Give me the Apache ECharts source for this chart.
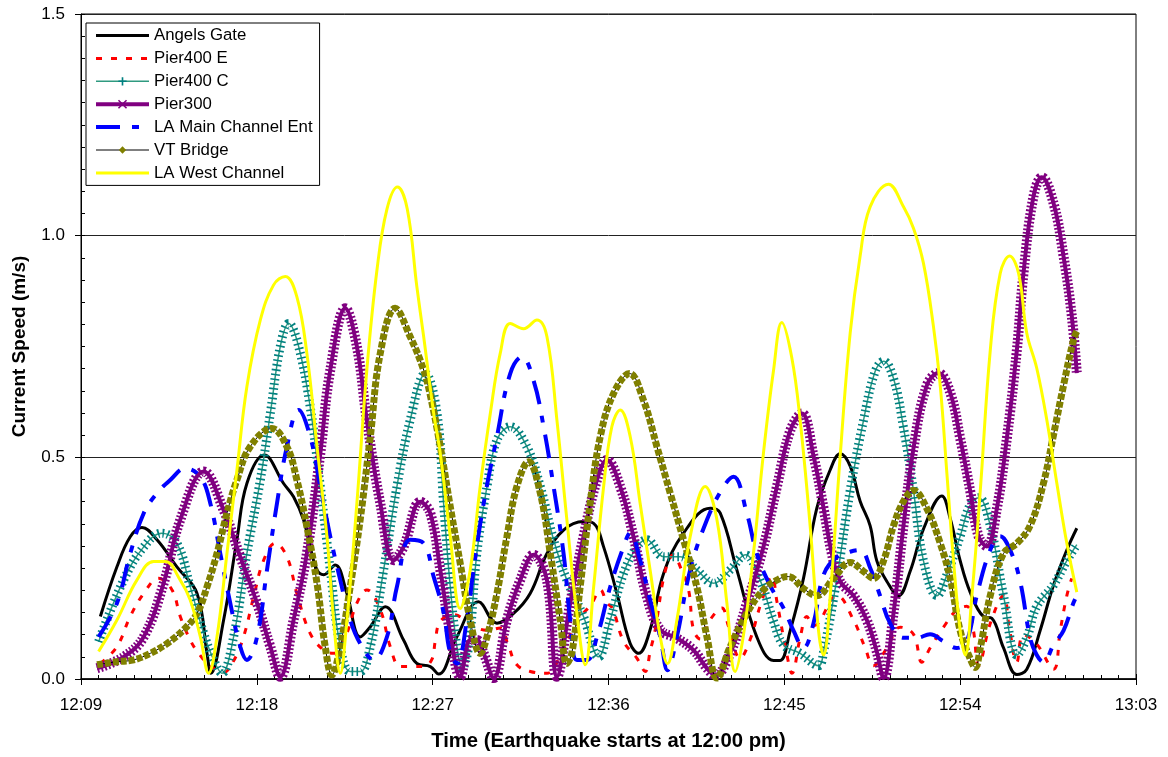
<!DOCTYPE html>
<html>
<head>
<meta charset="utf-8">
<script src="https://cdn.jsdelivr.net/npm/echarts@6/dist/echarts.min.js"></script>
<style>
html,body{margin:0;padding:0;background:#fff;}
#chart{width:1168px;height:757px;}
</style>
</head>
<body>
<div id="chart"></div>
<script>
// Time in minutes after 12:00, speed in m/s
const tickValues = [9, 18, 27, 36, 45, 54, 63];
const tickLabels = ['12:09', '12:18', '12:27', '12:36', '12:45', '12:54', '13:03'];
const yTickLabels = ['0.0', '0.5', '1.0', '1.5'];
const seriesNames = ['Angels Gate', 'Pier400 E', 'Pier400 C', 'Pier300', 'LA Main Channel Ent', 'VT Bridge', 'LA West Channel'];

const angelsGate = [[9.99,0.141],[10.84,0.253],[11.52,0.321],[12.12,0.342],[12.89,0.314],[13.91,0.253],[14.94,0.193],[15.45,0.058],[15.65,0.013],[16.30,0.133],[16.98,0.314],[17.49,0.441],[18.38,0.505],[19.37,0.441],[19.88,0.411],[20.39,0.359],[20.73,0.298],[21.08,0.246],[21.42,0.235],[22.01,0.257],[22.61,0.193],[23.29,0.095],[23.81,0.118],[24.57,0.163],[25.51,0.088],[26.19,0.035],[26.88,0.028],[27.30,0.011],[28.24,0.095],[29.35,0.174],[30.29,0.126],[31.14,0.148],[31.99,0.193],[32.85,0.283],[33.70,0.336],[34.72,0.355],[35.24,0.351],[35.75,0.298],[36.43,0.193],[37.11,0.080],[37.54,0.058],[38.13,0.111],[38.82,0.238],[39.84,0.329],[41.21,0.385],[41.72,0.374],[42.57,0.246],[43.59,0.095],[44.45,0.042],[44.79,0.042],[45.30,0.109],[45.98,0.227],[46.66,0.385],[47.35,0.472],[47.86,0.508],[48.37,0.480],[48.88,0.401],[49.39,0.346],[49.73,0.267],[50.25,0.220],[50.84,0.188],[51.44,0.243],[52.12,0.338],[53.06,0.413],[53.49,0.362],[54.00,0.267],[54.51,0.196],[55.19,0.141],[55.62,0.137],[56.22,0.070],[56.90,0.010],[57.41,0.022],[58.09,0.109],[58.78,0.212],[59.46,0.291],[59.97,0.340]];

const pier400E = [[9.99,0.035],[10.84,0.073],[11.52,0.141],[12.21,0.193],[12.97,0.227],[13.66,0.201],[14.08,0.141],[14.59,0.088],[15.02,0.058],[15.6,0.030],[16.3,0.015],[16.8,0.040],[17.32,0.095],[17.84,0.186],[18.35,0.268],[18.94,0.306],[19.54,0.276],[20.05,0.193],[20.73,0.103],[21.42,0.065],[21.93,0.058],[22.53,0.095],[23.12,0.171],[23.63,0.201],[24.32,0.156],[24.83,0.073],[25.34,0.028],[25.85,0.028],[26.53,0.028],[26.96,0.044],[27.13,0.085],[27.39,0.130],[28.06,0.145],[29.09,0.119],[29.8,0.110],[30.46,0.115],[30.88,0.074],[31.31,0.032],[32.0,0.017],[32.85,0.013],[33.6,0.060],[34.4,0.130],[35.15,0.171],[35.58,0.201],[35.92,0.172],[36.2,0.160],[36.77,0.085],[37.45,0.047],[37.88,0.017],[38.13,0.062],[38.39,0.111],[38.90,0.243],[39.33,0.280],[39.7,0.250],[40.10,0.201],[40.35,0.111],[40.7,0.090],[41.21,0.134],[41.80,0.160],[42.14,0.119],[42.74,0.047],[43.25,0.089],[43.8,0.170],[44.36,0.231],[44.62,0.175],[45.13,0.055],[45.39,0.013],[45.81,0.093],[46.15,0.141],[46.5,0.120],[47.69,0.188],[48.54,0.133],[49.14,0.070],[49.56,0.030],[50.25,0.070],[50.93,0.117],[51.61,0.101],[52.04,0.038],[52.46,0.070],[53.15,0.117],[53.83,0.156],[54.34,0.164],[54.68,0.109],[54.94,0.030],[55.54,0.125],[56.22,0.188],[56.5,0.120],[56.90,0.038],[57.24,0.100],[57.9,0.080],[58.78,0.022],[59.12,0.109],[59.46,0.188],[59.71,0.227]];

const pier400C = [[9.90,0.084],[11.18,0.223],[12.21,0.298],[13.14,0.329],[13.91,0.306],[14.59,0.208],[15.28,0.103],[15.79,0.043],[16.21,0.013],[16.81,0.095],[17.49,0.283],[18.18,0.449],[18.69,0.599],[19.20,0.750],[19.63,0.802],[20.14,0.750],[20.73,0.614],[21.25,0.434],[21.76,0.246],[22.27,0.073],[22.78,0.017],[23.29,0.017],[23.81,0.073],[24.49,0.246],[25.17,0.434],[25.85,0.584],[26.62,0.689],[27.22,0.600],[27.56,0.396],[27.90,0.208],[28.24,0.073],[28.50,0.024],[28.84,0.073],[29.26,0.283],[29.78,0.434],[30.29,0.539],[30.97,0.569],[31.82,0.524],[32.51,0.434],[33.19,0.314],[33.87,0.223],[34.72,0.141],[35.49,0.050],[36.09,0.133],[36.77,0.238],[37.45,0.298],[37.96,0.314],[38.82,0.276],[39.67,0.276],[40.52,0.246],[41.38,0.216],[42.23,0.246],[43.0,0.280],[43.76,0.223],[44.45,0.130],[44.96,0.077],[45.81,0.058],[46.75,0.030],[47.01,0.062],[47.69,0.227],[48.37,0.425],[49.05,0.583],[49.65,0.694],[50.08,0.717],[50.59,0.678],[51.10,0.567],[51.61,0.425],[52.12,0.267],[52.81,0.188],[53.32,0.235],[54.00,0.322],[54.51,0.393],[54.94,0.409],[55.54,0.346],[56.22,0.188],[56.90,0.054],[57.41,0.093],[57.92,0.164],[58.78,0.212],[59.46,0.267],[59.97,0.303]];

const pier300 = [[9.82,0.024],[11.18,0.050],[12.21,0.095],[13.23,0.216],[14.08,0.359],[15.28,0.468],[16.30,0.381],[17.15,0.276],[18.01,0.171],[18.69,0.073],[19.20,0.005],[19.88,0.133],[20.56,0.283],[21.25,0.509],[21.76,0.697],[22.53,0.836],[23.12,0.750],[23.63,0.584],[24.32,0.396],[25.0,0.268],[25.51,0.298],[26.37,0.400],[26.88,0.374],[27.39,0.246],[27.90,0.103],[28.41,0.005],[28.92,0.088],[29.26,0.088],[29.61,0.058],[30.12,0.002],[30.80,0.133],[31.48,0.223],[32.16,0.280],[32.85,0.223],[33.36,0.005],[34.04,0.171],[34.72,0.321],[35.41,0.449],[35.92,0.494],[36.60,0.434],[37.28,0.321],[37.96,0.186],[38.65,0.111],[39.50,0.092],[40.35,0.065],[41.04,0.024],[41.46,0.009],[42.23,0.058],[43.08,0.171],[43.93,0.298],[44.62,0.434],[45.30,0.560],[45.90,0.599],[46.49,0.504],[47.01,0.385],[47.43,0.283],[47.86,0.220],[48.54,0.188],[49.22,0.133],[49.73,0.062],[50.08,0.002],[50.59,0.149],[51.10,0.346],[51.61,0.520],[52.29,0.662],[52.89,0.690],[53.49,0.646],[54.00,0.543],[54.51,0.425],[54.94,0.322],[55.37,0.299],[55.88,0.385],[56.39,0.543],[56.90,0.741],[57.24,0.915],[57.75,1.088],[58.18,1.132],[58.78,1.073],[59.29,0.954],[59.71,0.820],[59.97,0.690]];

const laMainChannel = [[9.90,0.095],[10.84,0.171],[11.52,0.283],[12.21,0.374],[12.89,0.419],[13.57,0.449],[14.34,0.475],[15.11,0.456],[15.62,0.396],[16.13,0.283],[16.64,0.171],[17.15,0.073],[17.49,0.043],[18.01,0.095],[18.52,0.246],[19.03,0.396],[19.54,0.524],[20.14,0.607],[20.73,0.547],[21.25,0.434],[21.76,0.321],[22.27,0.223],[22.78,0.133],[23.29,0.080],[23.98,0.043],[24.66,0.095],[25.17,0.208],[25.85,0.314],[26.54,0.306],[27.05,0.231],[27.56,0.150],[27.90,0.058],[28.24,0.035],[28.75,0.133],[29.09,0.246],[29.61,0.396],[30.29,0.547],[30.97,0.689],[31.57,0.727],[32.16,0.674],[32.68,0.569],[33.19,0.434],[33.70,0.283],[34.04,0.133],[34.38,0.043],[34.89,0.043],[35.41,0.095],[36.09,0.208],[36.77,0.298],[37.11,0.329],[37.62,0.268],[38.13,0.178],[38.65,0.095],[39.02,0.020],[39.50,0.095],[40.18,0.246],[41.04,0.359],[41.89,0.434],[42.40,0.456],[43.08,0.374],[43.59,0.283],[44.28,0.210],[44.96,0.160],[45.47,0.109],[45.98,0.070],[46.49,0.125],[47.01,0.235],[47.69,0.275],[48.37,0.287],[48.88,0.291],[49.39,0.251],[49.90,0.188],[50.42,0.125],[51.10,0.093],[51.78,0.093],[52.46,0.101],[53.15,0.085],[53.83,0.070],[54.34,0.085],[54.85,0.188],[55.54,0.291],[56.05,0.322],[56.56,0.291],[57.07,0.220],[57.58,0.093],[57.92,0.054],[58.26,0.038],[58.78,0.077],[59.29,0.109],[59.80,0.172],[59.97,0.188]];

const vtBridge = [[9.82,0.032],[10.84,0.039],[11.69,0.043],[12.55,0.058],[13.40,0.080],[14.25,0.111],[14.94,0.148],[15.45,0.208],[15.96,0.283],[16.47,0.374],[16.98,0.449],[17.66,0.524],[18.77,0.565],[19.54,0.524],[20.05,0.449],[20.56,0.344],[21.08,0.216],[21.50,0.073],[21.84,0.009],[22.27,0.073],[22.78,0.208],[23.29,0.359],[23.81,0.547],[24.32,0.735],[25.08,0.836],[25.85,0.772],[26.54,0.697],[26.88,0.640],[27.39,0.524],[27.90,0.389],[28.41,0.261],[28.92,0.133],[29.43,0.058],[29.78,0.095],[30.29,0.193],[30.80,0.321],[31.31,0.434],[31.91,0.490],[32.51,0.419],[33.02,0.283],[33.53,0.133],[33.87,0.035],[34.13,0.060],[34.55,0.208],[35.06,0.396],[35.58,0.547],[36.26,0.644],[37.08,0.689],[37.79,0.629],[38.48,0.524],[39.16,0.419],[39.84,0.314],[40.52,0.208],[41.04,0.095],[41.55,0.002],[42.23,0.073],[43.08,0.148],[43.93,0.201],[44.79,0.227],[45.21,0.231],[45.98,0.204],[46.66,0.188],[47.52,0.227],[48.37,0.263],[49.05,0.243],[49.56,0.227],[50.08,0.267],[50.59,0.346],[51.10,0.401],[51.61,0.425],[52.29,0.385],[52.98,0.306],[53.49,0.227],[54.00,0.109],[54.51,0.046],[54.77,0.026],[55.03,0.070],[55.54,0.188],[56.22,0.283],[56.90,0.306],[57.58,0.346],[58.26,0.441],[58.78,0.551],[59.29,0.662],[59.80,0.765],[59.97,0.784]];

const laWestChannel = [[9.90,0.062],[10.84,0.133],[11.86,0.223],[12.72,0.265],[13.31,0.265],[14.08,0.223],[14.59,0.178],[15.11,0.095],[15.53,0.013],[15.96,0.095],[16.47,0.283],[16.98,0.471],[17.49,0.659],[18.18,0.810],[18.86,0.889],[19.46,0.908],[20.05,0.862],[20.56,0.735],[21.08,0.524],[21.59,0.321],[21.93,0.133],[22.27,0.013],[22.61,0.133],[23.12,0.396],[23.63,0.697],[24.15,0.923],[24.66,1.060],[25.20,1.110],[25.70,1.060],[26.19,0.885],[26.54,0.772],[27.05,0.600],[27.39,0.509],[27.90,0.321],[28.41,0.159],[28.92,0.246],[29.43,0.434],[29.95,0.599],[30.46,0.735],[30.97,0.802],[31.65,0.790],[32.34,0.810],[32.85,0.772],[33.36,0.584],[33.87,0.359],[34.38,0.148],[34.81,0.032],[35.24,0.208],[35.75,0.434],[36.17,0.569],[36.60,0.607],[37.11,0.547],[37.62,0.396],[38.13,0.246],[38.65,0.095],[39.02,0.035],[39.50,0.133],[40.18,0.321],[40.95,0.434],[41.55,0.359],[42.06,0.171],[42.48,0.017],[42.91,0.100],[43.42,0.283],[43.93,0.509],[44.45,0.697],[44.87,0.804],[45.38,0.725],[45.81,0.583],[46.32,0.346],[46.75,0.109],[47.01,0.054],[47.35,0.188],[47.86,0.504],[48.37,0.780],[48.88,0.954],[49.39,1.065],[50.33,1.116],[51.10,1.065],[51.61,1.017],[52.12,0.938],[52.63,0.796],[52.98,0.662],[53.32,0.464],[53.66,0.267],[54.00,0.109],[54.26,0.054],[54.60,0.188],[55.03,0.425],[55.54,0.741],[56.05,0.915],[56.53,0.954],[56.99,0.915],[57.41,0.780],[57.92,0.701],[58.44,0.583],[58.95,0.441],[59.46,0.306],[59.97,0.196]];

const FONT = "'Liberation Sans', Arial, sans-serif";
const NO_SYMBOL = 'path://M0,0M14,14';
const PLUS = 'path://M0,0M14,14M6.1,2.5H7.9V11.5H6.1ZM2.5,6.1H11.5V7.9H2.5Z';
const CROSS = 'path://M0,0M14,14M2,3.2L3.2,2L12,10.8L10.8,12ZM2,10.8L10.8,2L12,3.2L3.2,12Z';
const DIAMOND = 'path://M0,0M14,14M7,3L11,7L7,11L3,7Z';

function lineSeries(name, data, opts) {
  return Object.assign({
    name: name, type: 'line', data: data, smooth: 0.4, showSymbol: false,
    symbol: NO_SYMBOL, animation: false, silent: true, clip: true
  }, opts);
}

const series = [
  lineSeries(seriesNames[0], angelsGate, {lineStyle: {color: '#000', width: 3}, itemStyle: {color: '#000'}}),
  lineSeries(seriesNames[1], pier400E, {lineStyle: {color: '#ff0000', width: 3, type: [6, 9]}, itemStyle: {color: '#ff0000'}}),
  lineSeries(seriesNames[2], pier400C, {symbol: PLUS, lineStyle: {color: '#2f9a80', width: 1.5}, itemStyle: {color: '#008080'}}),
  lineSeries('_p400c_marks', pier400C, {lineStyle: {color: '#008080', width: 9, type: [1.6, 3.2]}}),
  lineSeries(seriesNames[3], pier300, {symbol: CROSS, lineStyle: {color: '#800080', width: 4}, itemStyle: {color: '#800080'}}),
  lineSeries('_p300_marks', pier300, {lineStyle: {color: '#800080', width: 10, type: [1.8, 2]}}),
  lineSeries(seriesNames[4], laMainChannel, {lineStyle: {color: '#0000ff', width: 4, type: [24, 12, 7, 12]}, itemStyle: {color: '#0000ff'}}),
  lineSeries(seriesNames[5], vtBridge, {symbol: DIAMOND, lineStyle: {color: '#000', width: 1}, itemStyle: {color: '#808000'}}),
  lineSeries('_vt_marks', vtBridge, {lineStyle: {color: '#808000', width: 7, type: [6, 2]}}),
  lineSeries(seriesNames[6], laWestChannel, {lineStyle: {color: '#ffff00', width: 3}, itemStyle: {color: '#ffff00'}})
];

const chart = echarts.init(document.getElementById('chart'), null, {renderer: 'canvas'});
chart.setOption({
  animation: false,
  backgroundColor: '#fff',
  textStyle: {fontFamily: FONT},
  grid: {left: 81, top: 14, width: 1055, height: 665, show: true, borderColor: '#000', borderWidth: 1, backgroundColor: 'transparent', containLabel: false, outerBoundsMode: 'none'},
  legend: {
    orient: 'vertical', left: 86, top: 23, padding: [4, 7, 4, 8],
    itemWidth: 53, itemHeight: 16, itemGap: 5.9,
    backgroundColor: '#fff', borderColor: '#000', borderWidth: 1, borderRadius: 0,
    textStyle: {fontFamily: FONT, fontSize: 16.8, color: '#000'},
    lineStyle: {width: 'inherit'},
    selectedMode: false,
    data: seriesNames
  },
  xAxis: [{
    type: 'value', min: tickValues[0], max: tickValues[tickValues.length - 1], interval: 9,
    position: 'bottom',
    name: 'Time (Earthquake starts at 12:00 pm)', nameLocation: 'middle', nameGap: 52,
    nameTextStyle: {fontFamily: FONT, fontSize: 20.3, fontWeight: 'bold', color: '#000'},
    axisLine: {show: true, onZero: false, lineStyle: {color: '#000', width: 1.5}},
    axisTick: {show: true, inside: true, length: 5, lineStyle: {color: '#000'}},
    minorTick: {show: true, splitNumber: 10, length: 4, lineStyle: {color: '#000'}},
    axisLabel: {margin: 18, fontFamily: FONT, fontSize: 17, color: '#000',
      formatter: function (v) { return tickLabels[Math.round((v - tickValues[0]) / 9)]; }},
    splitLine: {show: false}
  }, {
    type: 'value', min: tickValues[0], max: tickValues[tickValues.length - 1], interval: 9,
    position: 'bottom', gridIndex: 0,
    axisLine: {show: false},
    axisTick: {show: true, inside: false, length: 6, lineStyle: {color: '#000'}},
    axisLabel: {show: false}, splitLine: {show: false}
  }],
  yAxis: [{
    type: 'value', min: 0, max: 1.5, interval: 0.5, position: 'left',
    name: 'Current Speed (m/s)', nameLocation: 'middle', nameGap: 52, nameRotate: 90,
    nameTextStyle: {fontFamily: FONT, fontSize: 19, fontWeight: 'bold', color: '#000'},
    axisLine: {show: true, lineStyle: {color: '#000', width: 1}},
    axisTick: {show: true, inside: false, length: 6, lineStyle: {color: '#000'}},
    axisLabel: {margin: 16, fontFamily: FONT, fontSize: 17, color: '#000',
      formatter: function (v) { return yTickLabels[Math.round(v / 0.5)]; }},
    splitLine: {show: true, lineStyle: {color: '#222', width: 1}}
  }, {
    type: 'value', min: 0, max: 1.5, interval: 0.5, position: 'left', gridIndex: 0,
    axisLine: {show: false},
    axisTick: {show: true, inside: true, length: 4, lineStyle: {color: '#000'}},
    minorTick: {show: true, splitNumber: 10, length: 4, lineStyle: {color: '#000'}},
    axisLabel: {show: false}, splitLine: {show: false}
  }],
  series: series
});
</script>
</body>
</html>
